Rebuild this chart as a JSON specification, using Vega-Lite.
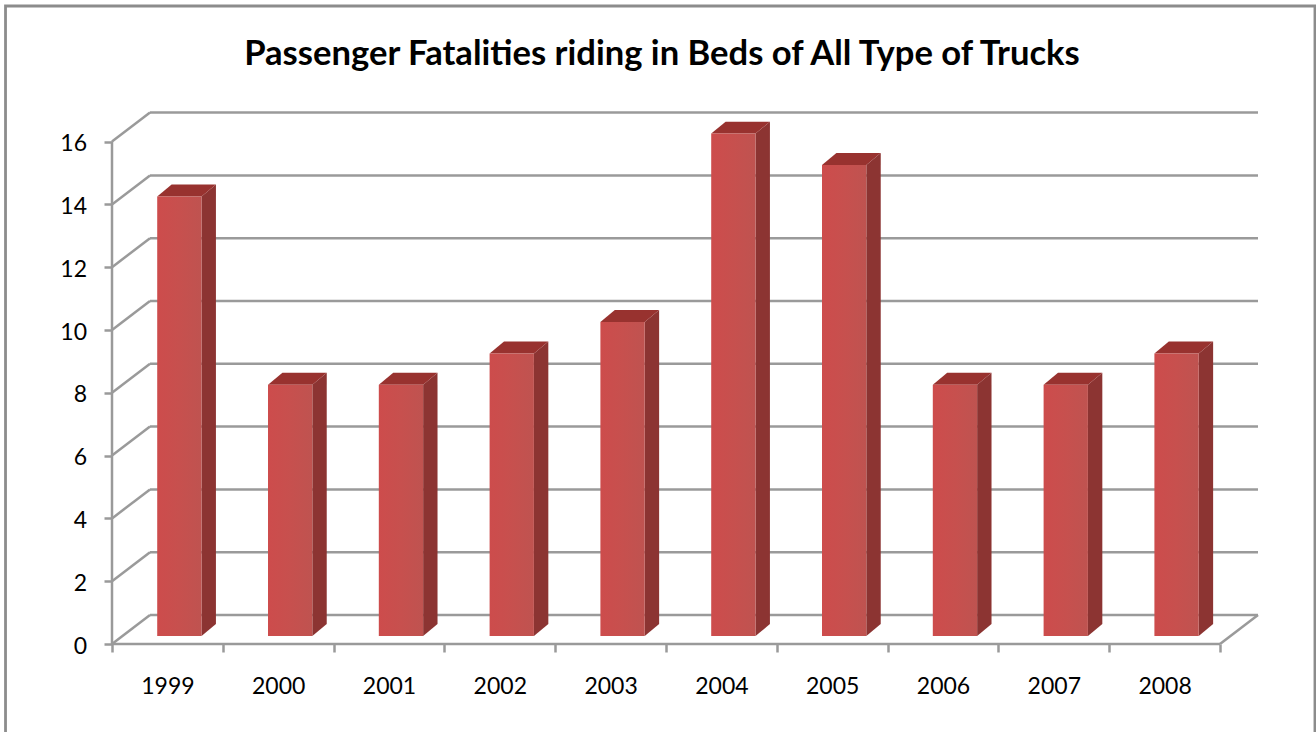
{
"$schema":"https://vega.github.io/schema/vega-lite/v6.json",
"width":1146,"height":531,
"autosize":"none",
"padding":{"left":112,"top":113,"right":58,"bottom":88},
"background":"white",
"view":{"stroke":null},
"title":{"text":"Passenger Fatalities riding in Beds of All Type of Trucks","anchor":"middle","dx":-23,"offset":-68,"font":"Lato","fontSize":34.6,"fontWeight":"bold","color":"#000000"},
"resolve":{"axis":{"x":"independent","y":"independent"}},
"datasets":{
"bars":[{"year":1999,"value":14},{"year":2000,"value":8},{"year":2001,"value":8},{"year":2002,"value":9},{"year":2003,"value":10},{"year":2004,"value":16},{"year":2005,"value":15},{"year":2006,"value":8},{"year":2007,"value":8},{"year":2008,"value":9}],
"grid":[{"v":0},{"v":2},{"v":4},{"v":6},{"v":8},{"v":10},{"v":12},{"v":14},{"v":16}]
},
"layer":[
{"data":{"values":[{"a":1}]},"mark":{"type":"rect","filled":false,"stroke":"#8c8c8c","strokeWidth":2.8,"clip":false},
 "encoding":{"x":{"datum":1997.539,"type":"quantitative","axis":null},"x2":{"datum":2009.357},"y":{"datum":20.318,"type":"quantitative","axis":null},"y2":{"datum":-3.1}}},
{"data":{"name":"grid"},"transform":[{"calculate":"1998.5","as":"a"},{"calculate":"1998.843","as":"b"},{"calculate":"datum.v+0.924","as":"w"}],
 "mark":{"type":"rule","color":"#9a9a9a","strokeWidth":2.5},
 "encoding":{"x":{"field":"a","type":"quantitative","axis":null},"x2":{"field":"b"},"y":{"field":"v","type":"quantitative","axis":null},"y2":{"field":"w"}}},
{"data":{"name":"grid"},"transform":[{"calculate":"1998.843","as":"a"},{"calculate":"2008.843","as":"b"},{"calculate":"datum.v+0.924","as":"w"}],
 "mark":{"type":"rule","color":"#9a9a9a","strokeWidth":2.5},
 "encoding":{"x":{"field":"a","type":"quantitative","axis":null},"x2":{"field":"b"},"y":{"field":"w","type":"quantitative","axis":null}}},
{"data":{"values":[{"a":2008.5,"b":2008.843,"p":0,"q":0.924}]},
 "mark":{"type":"rule","color":"#9a9a9a","strokeWidth":2.5},
 "encoding":{"x":{"field":"a","type":"quantitative","axis":null},"x2":{"field":"b"},"y":{"field":"p","type":"quantitative","axis":null},"y2":{"field":"q"}}},
{"data":{"values":[{"a":1998.5,"b":2008.5,"p":0}]},
 "mark":{"type":"rule","color":"#9a9a9a","strokeWidth":2.5},
 "encoding":{
  "x":{"field":"a","type":"quantitative","title":null,"scale":{"domain":[1998.5,2008.843],"nice":false,"zero":false},
   "axis":{"values":[1998.5,1999,1999.5,2000,2000.5,2001,2001.5,2002,2002.5,2003,2003.5,2004,2004.5,2005,2005.5,2006,2006.5,2007,2007.5,2008,2008.5],
    "labelExpr":"datum.value % 1 ? '' : format(datum.value,'d')","labelFont":"Lato","labelFontSize":23,"labelColor":"#000000","labelPadding":23,"labelOverlap":false,"labelFlush":false,
    "domain":false,"grid":false,"tickSize":8,"tickWidth":2.5,"tickColor":"#9a9a9a","tickOpacity":{"expr":"datum.value % 1 ? 1 : 0"}}},
  "x2":{"field":"b"},
  "y":{"field":"p","type":"quantitative","title":null,"scale":{"domain":[0,16.911],"nice":false,"zero":true},
   "axis":{"values":[0,2,4,6,8,10,12,14,16],"labelFont":"Lato","labelFontSize":23,"labelColor":"#000000","labelPadding":17.5,"labelOffset":2,"domain":false,"grid":false,"tickSize":8,"tickWidth":2.5,"tickColor":"#9a9a9a"}}}},
{"data":{"values":[{"a":1998.5,"p":0,"q":16}]},
 "mark":{"type":"rule","color":"#9a9a9a","strokeWidth":2.5},
 "encoding":{"x":{"field":"a","type":"quantitative","axis":null},"y":{"field":"p","type":"quantitative","axis":null},"y2":{"field":"q"}}},
{"data":{"name":"bars"},"transform":[
  {"calculate":"[0,1]","as":"d"},{"flatten":["d"]},
  {"calculate":"datum.year+0.308+0.13*datum.d","as":"sx"},
  {"calculate":"datum.value+0.255+0.38*datum.d","as":"st"},
  {"calculate":"0.255+0.38*datum.d","as":"sb"}],
 "mark":{"type":"area","orient":"vertical","fill":"#8c3432"},
 "encoding":{"detail":{"field":"year","type":"nominal"},"x":{"field":"sx","type":"quantitative","axis":null},"y":{"field":"st","type":"quantitative","axis":null,"stack":null},"y2":{"field":"sb"}}},
{"data":{"name":"bars"},"transform":[
  {"calculate":"[0,1]","as":"d"},{"flatten":["d"]},
  {"calculate":"datum.year-0.092+0.13*datum.d","as":"tl"},
  {"calculate":"datum.year+0.308+0.13*datum.d","as":"tr"},
  {"calculate":"datum.value+0.255+0.38*datum.d","as":"ty"}],
 "mark":{"type":"area","orient":"horizontal","fill":"#98322f"},
 "encoding":{"detail":{"field":"year","type":"nominal"},"y":{"field":"ty","type":"quantitative","axis":null},"x":{"field":"tl","type":"quantitative","axis":null,"stack":null},"x2":{"field":"tr"}}},
{"data":{"name":"bars"},"transform":[
  {"calculate":"datum.year-0.092","as":"l"},{"calculate":"datum.year+0.308","as":"r"},
  {"calculate":"datum.value+0.255","as":"t"},{"calculate":"0.255","as":"b"}],
 "mark":{"type":"rect","fill":{"gradient":"linear","x1":0,"y1":0,"x2":1,"y2":0,"stops":[{"offset":0,"color":"#cd4c4c"},{"offset":0.5,"color":"#c7504e"},{"offset":1,"color":"#bf5350"}]}},
 "encoding":{"x":{"field":"l","type":"quantitative","axis":null},"x2":{"field":"r"},"y":{"field":"t","type":"quantitative","axis":null},"y2":{"field":"b"}}}
]
}
